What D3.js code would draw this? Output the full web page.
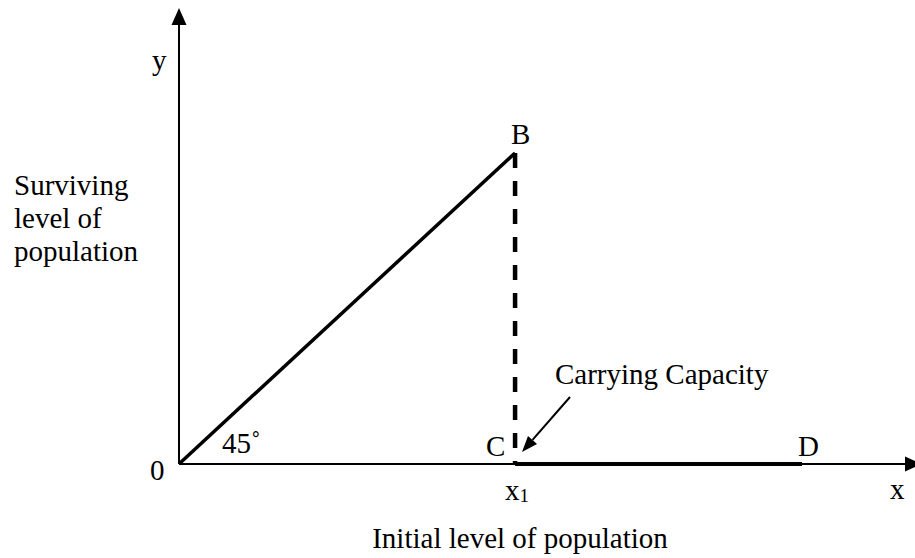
<!DOCTYPE html>
<html><head><meta charset="utf-8">
<script src="https://cdn.jsdelivr.net/npm/d3@7"></script>
<style>html,body{margin:0;padding:0;background:#fff;}svg{display:block;}text{font-family:"Liberation Serif","Times New Roman",serif;fill:#000;}</style>
</head><body>
<script>
// Data (units: x1 = 1)
const xMax = 2.19, yMax = 1.466;
const risingLine = [[0, 0], [1, 1]];          // 0 -> B (45 degrees)
const dropLine = [[1, 1], [1, 0]];            // B -> C (dashed)
const capacityLine = [[1, 0], [1.854, 0]];    // C -> D
const pointLabels = [
  {t: "B", x: 1, y: 1, dx: -4, dy: -9},
  {t: "C", x: 1, y: 0, dx: -29, dy: -8},
  {t: "D", x: 1.854, y: 0, dx: -4, dy: -8},
  {t: "0", x: 0, y: 0, dx: -29, dy: 16}
];

const W = 915, H = 558;
const svg = d3.select("body").append("svg").attr("width", W).attr("height", H);
const x = d3.scaleLinear().domain([0, xMax]).range([179, 915]);
const y = d3.scaleLinear().domain([0, yMax]).range([464, 8]);
const line = d3.line().x(d => x(d[0])).y(d => y(d[1]));

// axes
svg.append("line").attr("x1", x(0)).attr("y1", y(0)).attr("x2", x(0)).attr("y2", y(yMax) + 14)
  .attr("stroke", "#000").attr("stroke-width", 2);
svg.append("path").attr("d", `M${x(0)},${y(yMax)} L${x(0)-7.5},${y(yMax)+17} L${x(0)+7.5},${y(yMax)+17} Z`).attr("fill", "#000");
svg.append("line").attr("x1", x(0)).attr("y1", y(0)).attr("x2", 908).attr("y2", y(0))
  .attr("stroke", "#000").attr("stroke-width", 2);
svg.append("path").attr("d", `M922,${y(0)} L905,${y(0)-7.5} L905,${y(0)+7.5} Z`).attr("fill", "#000");

// curves
svg.append("path").attr("d", line(risingLine)).attr("fill", "none").attr("stroke", "#000").attr("stroke-width", 3.5);
svg.append("path").attr("d", line(dropLine)).attr("fill", "none").attr("stroke", "#000").attr("stroke-width", 4.5)
  .attr("stroke-dasharray", "15,13");
svg.append("path").attr("d", line(capacityLine)).attr("fill", "none").attr("stroke", "#000").attr("stroke-width", 4);

// point labels
svg.selectAll("text.pt").data(pointLabels).enter().append("text").attr("class", "pt")
  .attr("x", d => x(d.x) + d.dx).attr("y", d => y(d.y) + d.dy)
  .attr("font-size", 29).text(d => d.t);

// 45 deg
svg.append("text").attr("x", 222).attr("y", 453).attr("font-size", 29).text("45˚");

// axis labels
svg.append("text").attr("x", 152).attr("y", 70).attr("font-size", 29).text("y");
svg.append("text").attr("x", 890).attr("y", 499).attr("font-size", 29).text("x");
const x1t = svg.append("text").attr("x", x(1) - 10).attr("y", 500).attr("font-size", 29);
x1t.append("tspan").text("x");
x1t.append("tspan").attr("font-size", 19).attr("dy", 2).text("1");

// y title
const yt = svg.append("text").attr("x", 14).attr("y", 195).attr("font-size", 29);
["Surviving", "level of", "population"].forEach((s, i) => yt.append("tspan").attr("x", 14).attr("dy", i ? 33 : 0).text(s));

// x title
svg.append("text").attr("x", 520).attr("y", 548).attr("text-anchor", "middle").attr("font-size", 29).text("Initial level of population");

// carrying capacity annotation
svg.append("text").attr("x", 555).attr("y", 384).attr("font-size", 29).text("Carrying Capacity");
const ax0 = 570, ay0 = 397, ax1 = 522, ay1 = 452;
const ang = Math.atan2(ay1 - ay0, ax1 - ax0);
const hl = 16, hw = 6;
const bx = ax1 - hl * Math.cos(ang), by = ay1 - hl * Math.sin(ang);
svg.append("line").attr("x1", ax0).attr("y1", ay0).attr("x2", bx).attr("y2", by).attr("stroke", "#000").attr("stroke-width", 2);
svg.append("path").attr("d", `M${ax1},${ay1} L${bx + hw*Math.sin(ang)},${by - hw*Math.cos(ang)} L${bx - hw*Math.sin(ang)},${by + hw*Math.cos(ang)} Z`).attr("fill", "#000");
</script>
</body></html>
